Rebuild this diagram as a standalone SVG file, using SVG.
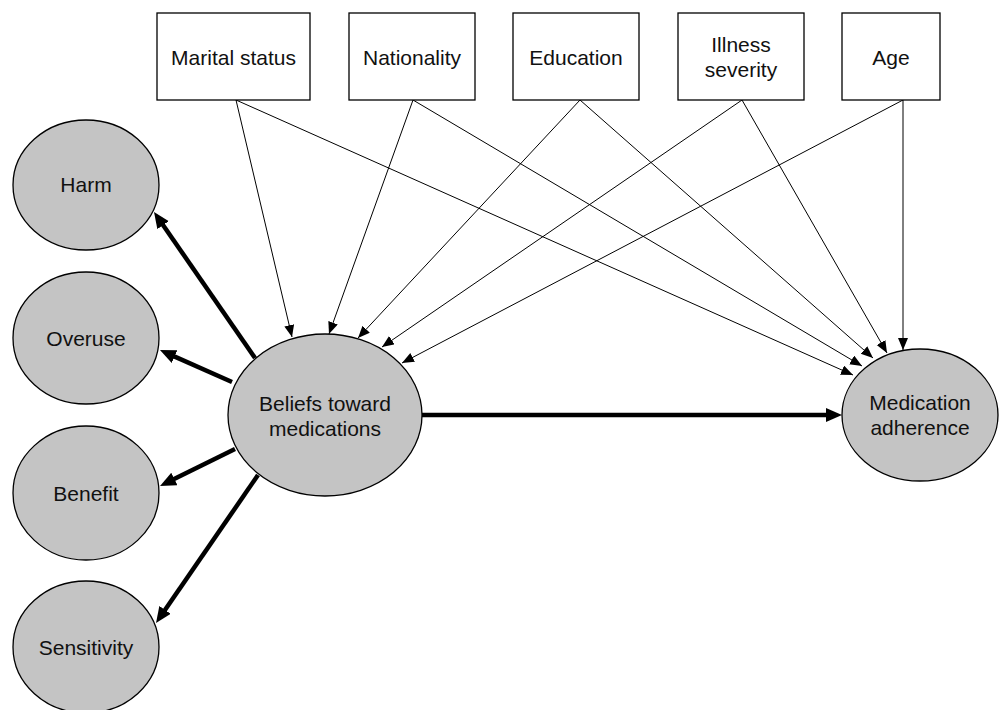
<svg xmlns="http://www.w3.org/2000/svg" width="1000" height="710" viewBox="0 0 1000 710">
<style>
.box{fill:#fff;stroke:#000;stroke-width:1.3}
.ell{fill:#c4c4c4;stroke:#000;stroke-width:1.3}
text{font-family:"Liberation Sans",Arial,sans-serif;font-size:21px;fill:#111;text-anchor:middle}
.thin{stroke:#000;stroke-width:1;fill:none;marker-end:url(#ah)}
.thick{stroke:#000;stroke-width:4.5;fill:none;marker-end:url(#ahb)}
</style>
<defs>
<marker id="ah" markerUnits="userSpaceOnUse" markerWidth="13" markerHeight="11" refX="12" refY="5" orient="auto"><path d="M0,0 L12,5 L0,10 z" fill="#000"/></marker>
<marker id="ahb" markerUnits="userSpaceOnUse" markerWidth="17" markerHeight="15" refX="6" refY="7" orient="auto"><path d="M0,0 L16,7 L0,14 z" fill="#000"/></marker>
</defs>
<g id="connectors">
<line class="thin" x1="236" y1="100" x2="292" y2="337"/>
<line class="thin" x1="236" y1="100" x2="853" y2="375"/>
<line class="thin" x1="413" y1="100" x2="329" y2="334"/>
<line class="thin" x1="413" y1="100" x2="862" y2="366"/>
<line class="thin" x1="580" y1="100" x2="358" y2="338"/>
<line class="thin" x1="580" y1="100" x2="873" y2="358"/>
<line class="thin" x1="742" y1="100" x2="382" y2="347"/>
<line class="thin" x1="742" y1="100" x2="887" y2="353"/>
<line class="thin" x1="903" y1="100" x2="402" y2="363"/>
<line class="thin" x1="903" y1="100" x2="903" y2="350"/>
<line class="thick" x1="255" y1="358" x2="159.7" y2="220.2"/>
<line class="thick" x1="232" y1="382" x2="169.1" y2="354.1"/>
<line class="thick" x1="235" y1="449" x2="169" y2="481.6"/>
<line class="thick" x1="258" y1="475" x2="161.7" y2="614.8"/>
<line class="thick" x1="422" y1="415" x2="832" y2="415"/>
</g>
<g id="marital"><rect class="box" x="157" y="13" width="153" height="87"/><text x="233.5" y="64.5">Marital status</text></g>
<g id="nationality"><rect class="box" x="349" y="13" width="126" height="87"/><text x="412" y="64.5">Nationality</text></g>
<g id="education"><rect class="box" x="513" y="13" width="126" height="87"/><text x="576" y="64.5">Education</text></g>
<g id="illness"><rect class="box" x="678" y="13" width="126" height="87"/><text x="741" y="52">Illness</text><text x="741" y="77">severity</text></g>
<g id="age"><rect class="box" x="842" y="13" width="98" height="87"/><text x="891" y="64.5">Age</text></g>
<g id="harm"><ellipse class="ell" cx="86" cy="185" rx="73" ry="65"/><text x="86" y="192">Harm</text></g>
<g id="overuse"><ellipse class="ell" cx="86" cy="338" rx="73" ry="66"/><text x="86" y="345.5">Overuse</text></g>
<g id="benefit"><ellipse class="ell" cx="86" cy="493" rx="73" ry="67"/><text x="86" y="500.5">Benefit</text></g>
<g id="sensitivity"><ellipse class="ell" cx="86" cy="647" rx="73" ry="66"/><text x="86" y="655">Sensitivity</text></g>
<g id="beliefs"><ellipse class="ell" cx="325" cy="415" rx="97" ry="81"/><text x="325" y="411">Beliefs toward</text><text x="325" y="436">medications</text></g>
<g id="adherence"><ellipse class="ell" cx="920" cy="415" rx="78" ry="66"/><text x="920" y="410">Medication</text><text x="920" y="435">adherence</text></g>
</svg>
